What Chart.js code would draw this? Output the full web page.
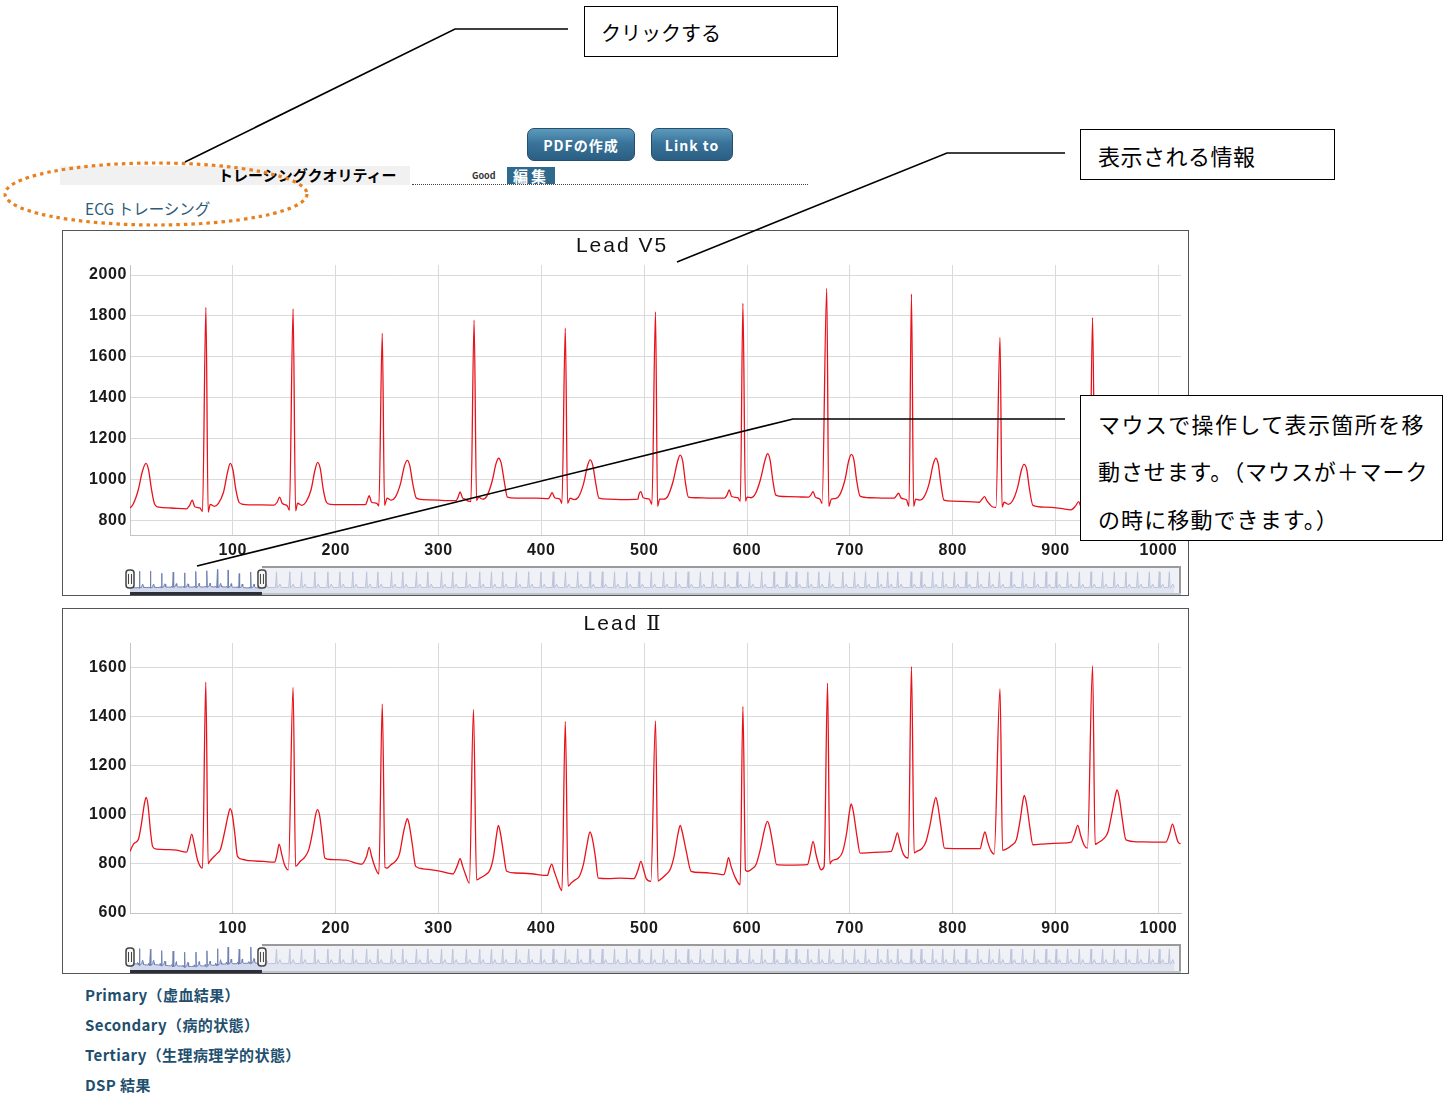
<!DOCTYPE html>
<html lang="ja">
<head>
<meta charset="utf-8">
<title>ECG トレーシング</title>
<script src="https://cdn.jsdelivr.net/npm/chart.js@4.4.1/dist/chart.umd.min.js"></script>
<style>
  html, body { margin: 0; padding: 0; background: #fff; }
  body { width: 1452px; height: 1095px; position: relative; overflow: hidden;
         font-family: "Noto Sans CJK JP", "Noto Sans", sans-serif; color: #000; }
  .callout { position: absolute; border: 1.6px solid #000; background: #fff; box-sizing: border-box; z-index: 5; }
  .callout div { position: absolute; left: 16px; white-space: nowrap; line-height: 24px; }
  .btn { position: absolute; top: 128px; height: 33px; border-radius: 7px; box-sizing: border-box;
         background: linear-gradient(#5d9abd, #3a739a 45%, #2a5f82 100%); border: 1px solid #22506d;
         color: #fff; font-weight: bold; font-size: 14px; letter-spacing: 1px;
         display: flex; align-items: center; justify-content: center; }
  .frame { position: absolute; left: 62px; width: 1127px; height: 366px; border: 1px solid #555; box-sizing: border-box; }
  .frame canvas { position: absolute; left: 0; }
  .title { position: absolute; top: 2px; left: 559px; transform: translateX(-50%); font-family: "Liberation Sans", sans-serif;
           font-size: 21px; letter-spacing: 2px; line-height: 24px; white-space: nowrap; color: #111; }
  .title .roman { font-family: "DejaVu Serif", "Noto Sans CJK JP", serif; letter-spacing: 0; }
  .link { position: absolute; left: 85px; font-weight: bold; font-size: 15px; letter-spacing: 0.4px; color: #1f4f6e; line-height: 20px; white-space: nowrap; }
  svg.overlay { position: absolute; left: 0; top: 0; z-index: 10; pointer-events: none; }
</style>
</head>
<body>

<!-- header controls -->
<div class="btn" style="left:527px;width:108px;">PDFの作成</div>
<div class="btn" style="left:651px;width:82px;">Link to</div>

<div style="position:absolute;left:60px;top:166px;width:350px;height:19px;background:#f1f1f1;"></div>
<div style="position:absolute;left:218px;top:165px;font-size:15px;font-weight:bold;line-height:20px;white-space:nowrap;">トレーシングクオリティー</div>
<div style="position:absolute;left:412px;top:184px;width:396px;border-top:1px dotted #444;"></div>
<div style="position:absolute;left:472px;top:170px;font-size:9px;font-weight:bold;color:#333;line-height:12px;">Good</div>
<div style="position:absolute;left:507px;top:167px;width:48px;height:17px;background:#2f6a8c;color:#fff;font-size:15px;font-weight:bold;line-height:17px;text-align:center;letter-spacing:3px;">編集</div>

<div style="position:absolute;left:85px;top:198px;font-size:15.5px;color:#2d5b78;line-height:20px;white-space:nowrap;">ECG トレーシング</div>

<!-- charts -->
<div class="frame" style="top:230px;">
  <canvas id="chartV5" width="1125" height="330" style="top:0;"></canvas>
  <canvas id="navV5" width="1125" height="29" style="top:335px;"></canvas>
  <div class="title">Lead V5</div>
</div>
<div class="frame" style="top:608px;">
  <canvas id="chartII" width="1125" height="330" style="top:0;"></canvas>
  <canvas id="navII" width="1125" height="29" style="top:335px;"></canvas>
  <div class="title">Lead <span class="roman">Ⅱ</span></div>
</div>

<!-- callouts -->
<div class="callout" style="left:584px;top:6px;width:254px;height:51px;font-size:20px;">
  <div style="top:14px;">クリックする</div>
</div>
<div class="callout" style="left:1080px;top:129px;width:255px;height:51px;font-size:22px;">
  <div style="top:13px;left:17px;letter-spacing:0.5px;">表示される情報</div>
</div>
<div class="callout" style="left:1080px;top:395px;width:363px;height:146px;font-size:22px;">
  <div style="top:15px;left:17px;letter-spacing:1.4px;">マウスで操作して表示箇所を移</div>
  <div style="top:62px;left:17px;letter-spacing:0.9px;">動させます。（マウスが＋マーク</div>
  <div style="top:110px;left:17px;letter-spacing:1.1px;">の時に移動できます。）</div>
</div>

<div class="link" style="top:985px;">Primary（虚血結果）</div>
<div class="link" style="top:1015px;">Secondary（病的状態）</div>
<div class="link" style="top:1045px;">Tertiary（生理病理学的状態）</div>
<div class="link" style="top:1075px;">DSP 結果</div>

<svg class="overlay" width="1452" height="1095">
  <ellipse cx="156" cy="194" rx="151" ry="31" fill="none" stroke="#e8801f" stroke-width="3.2" stroke-dasharray="3.5 4"/>
  <polyline points="568,29 455,29 185,162" fill="none" stroke="#000" stroke-width="1.6"/>
  <polyline points="1065,153 947,153 677,262" fill="none" stroke="#000" stroke-width="1.6"/>
  <polyline points="1065,419 793,419 197,566" fill="none" stroke="#000" stroke-width="1.6"/>
</svg>

<script>
// ===== Axis ticks and ranges =====
const xTicks = [100, 200, 300, 400, 500, 600, 700, 800, 900, 1000];
const yTicksV5 = [800, 1000, 1200, 1400, 1600, 1800, 2000];
const yTicksII = [600, 800, 1000, 1200, 1400, 1600];
const yRangeV5 = [730, 2049];
const yRangeII = [600, 1700];
const viewRange = [0, 1022];     // window shown in the main plot
const navRange = [0, 8140];      // whole recording in the navigator

// ===== Lead V5 trace (sample, value) =====
const leadV5 = [
  [0, 862], [3, 880], [8, 950], [12, 1040], [15.5, 1080], [18, 1050], [21, 950], [24, 880], [28, 866], [40, 862], [55, 858],
  [58, 875], [60.5, 900], [63, 868],
  [68, 862], [70.5, 845], [73.8, 1842], [76, 842], [78, 880], [82, 870],
  [86, 885], [91, 940], [95, 1040], [97.5, 1080], [100, 1050], [103, 950], [106, 890], [110, 880], [125, 877], [140, 876],
  [143, 890], [145.5, 915], [148, 885],
  [153, 872], [155, 850], [158.6, 1835], [161, 848], [163, 885], [167, 875],
  [171, 890], [176, 950], [180, 1050], [182.5, 1085], [185, 1055], [188, 950], [191, 890], [195, 880], [215, 878], [229, 878],
  [230.5, 895], [232.5, 922], [235, 890],
  [240, 885], [242, 872], [245.3, 1715], [247.5, 875], [250, 910], [254, 900],
  [258, 915], [263, 980], [267, 1070], [269.7, 1095], [272, 1070], [275, 980], [278.5, 910], [285, 903], [300, 900], [317, 898],
  [319, 915], [321, 940], [323.5, 910], [326, 905],
  [329, 895], [331.5, 893], [334.6, 1779], [337, 898], [339, 915], [343, 905],
  [347, 920], [352, 990], [356, 1080], [358.5, 1105], [361, 1080], [364, 990], [367, 915], [375, 910], [395, 910], [407, 908],
  [408.5, 920], [410.5, 937], [413, 912],
  [418, 905], [420, 885], [423.3, 1740], [425.5, 885], [428, 910], [432, 903],
  [436, 915], [441, 980], [445, 1070], [447.5, 1097], [450, 1070], [453, 980], [456, 910], [465, 905], [480, 903], [494, 905],
  [494.5, 920], [496.8, 942], [499, 912],
  [505, 905], [507.5, 880], [511, 1820], [513, 870], [515, 905], [519, 905],
  [523, 920], [528, 990], [532.5, 1090], [535, 1120], [537.5, 1090], [540, 990], [543, 915], [550, 912], [565, 910], [578, 910],
  [580.5, 925], [582.7, 950], [585, 918],
  [591, 912], [593.5, 895], [596, 1862], [598.5, 895], [600, 915], [604, 912],
  [608, 930], [613, 1000], [617.5, 1095], [620, 1128], [622.5, 1095], [625, 1000], [628, 925], [635, 918], [650, 916], [660, 915],
  [662, 925], [664.2, 942], [666.5, 915],
  [671, 905], [673, 885], [677.5, 1935], [679.5, 870], [682, 905], [686, 908],
  [690, 925], [695, 995], [699, 1095], [701.5, 1124], [704, 1095], [706.5, 1000], [710, 920], [720, 912], [735, 910], [743, 910],
  [745, 920], [747.3, 934], [750, 910],
  [755, 902], [757.5, 870], [759.9, 1907], [762, 870], [764, 905], [768, 900],
  [772, 915], [777, 980], [781, 1075], [783.6, 1105], [786, 1075], [788.5, 980], [791.5, 900], [800, 895], [815, 893], [826, 890],
  [828.5, 905], [831, 917], [833.5, 895],
  [836, 880], [838.5, 868], [842, 865], [846, 1695], [848, 866], [850, 890], [854, 880],
  [858, 895], [863, 960], [867, 1050], [869.3, 1075], [872, 1050], [874.5, 960], [878, 875], [890, 866], [905, 860], [915, 853],
  [919.5, 872], [922.4, 893], [925, 865],
  [930, 858], [933, 845], [936, 1792], [938.5, 850], [941, 870], [945, 865],
  [949, 880], [954, 950], [958, 1040], [960.5, 1075], [963, 1045], [966, 950], [969, 870], [980, 862], [1000, 858], [1008, 857],
  [1010, 870], [1012.5, 890], [1015, 862], [1022, 858]
];

// ===== Lead II trace (sample, value) =====
const leadII = [
  [0, 851], [2, 870], [4.4, 885], [8, 898], [11, 960], [14, 1045], [15.7, 1071], [17.5, 1040], [20, 930], [22, 871], [26, 860], [38, 858], [45, 856], [55, 848],
  [57.5, 880], [60, 921], [62.5, 880], [65.6, 817],
  [70.5, 783], [73.7, 1540], [76, 800], [77.5, 810], [80.4, 824],
  [84, 840], [88, 860], [92, 930], [95.5, 1000], [97.4, 1025], [99.5, 1000], [102, 920], [104.5, 831], [110, 818], [116, 813], [130, 810], [140.6, 807],
  [143, 840], [145, 881], [147.5, 840], [150, 800],
  [154, 776], [158.6, 1519], [161, 790], [165.4, 810],
  [170, 828], [174, 860], [178, 940], [180.5, 1000], [182.3, 1021], [184.5, 995], [187, 910], [189.4, 824], [195, 818], [210, 815], [225.5, 799],
  [230, 830], [232.6, 867], [235, 830], [238, 790],
  [242, 759], [245.3, 1451], [248, 785], [250, 783], [253.8, 797],
  [258, 810], [262, 840], [266, 930], [268, 965], [269.7, 984], [271.5, 960], [274.5, 880], [277.8, 790], [285, 780], [300, 772], [313.9, 759],
  [318, 790], [321, 821], [323.5, 790], [326, 760],
  [330, 722], [334, 1428], [337, 735], [340.4, 742], [345.8, 756],
  [350, 775], [353.5, 830], [356.5, 920], [358.2, 957], [360, 930], [363, 850], [366.3, 770], [375, 763], [390, 760], [405.9, 753],
  [408, 780], [410, 799], [412.5, 770], [415, 740],
  [420, 691], [423.3, 1380], [426, 710], [429, 722], [433, 735],
  [437, 750], [441, 800], [444.5, 880], [447.3, 930], [449.5, 905], [452.5, 830], [455.4, 742], [465, 740], [476.6, 742], [490, 740],
  [494, 775], [496.8, 810], [499.5, 775], [502, 740],
  [506.5, 729], [511, 1383], [513.5, 730], [515.6, 736], [521, 756],
  [525, 775], [529, 830], [533, 925], [535, 957], [537, 930], [541, 850], [545.6, 770], [555, 765], [570, 760], [577.4, 756],
  [580, 790], [582, 826], [584.5, 790], [588, 750],
  [593.3, 715], [596, 1441], [598.5, 775], [601, 770], [605, 780],
  [609, 800], [613, 860], [617, 940], [619.9, 973], [622, 950], [625.5, 870], [628.7, 797], [640, 795], [658.8, 797],
  [661.5, 840], [664.2, 892], [667, 840], [669.5, 800],
  [672, 776], [675, 790], [678.3, 1536], [680.5, 800], [682, 810], [689, 824],
  [693, 850], [697, 930], [699.5, 1010], [701.3, 1044], [703.5, 1010], [707, 910], [710, 844], [720, 846], [730, 848], [740.2, 851],
  [743.5, 890], [746.2, 926], [749, 880], [752, 840],
  [756.8, 824], [759.9, 1604], [762.5, 845], [765, 851], [770.3, 864],
  [774, 890], [778, 960], [781.5, 1040], [783.6, 1071], [785.5, 1040], [789, 940], [792, 864], [805, 862], [826.7, 862],
  [829, 900], [831.4, 930], [834, 890], [837, 855],
  [840.3, 840], [846, 1513], [848.5, 855], [851, 858], [858, 878],
  [862, 900], [866, 990], [868, 1050], [869.6, 1079], [872, 1040], [875, 950], [878, 878], [890, 882], [905, 885], [915.3, 889],
  [918.5, 920], [921.6, 957], [924.5, 915], [928, 875],
  [931, 864], [936, 1607], [938.5, 880], [941, 885], [947.4, 905],
  [951, 930], [955, 1010], [958, 1075], [959.8, 1102], [962, 1070], [965, 980], [968.5, 898], [980, 890], [995, 889], [1007.4, 889],
  [1011, 925], [1013.7, 962], [1016.5, 925], [1019, 890], [1021.5, 881]
];

// ===== Navigator: R-peak positions after the shown window =====
const navBeats = [
  1030, 1135, 1238, 1329, 1432, 1533, 1626, 1726, 1833, 1920, 2026, 2113, 2219, 2307, 2413, 2500, 2606, 2709, 2800, 2887, 2993,
  3088, 3183, 3278, 3373, 3468, 3563, 3658, 3753, 3848, 3943, 4038, 4133, 4228, 4323, 4418, 4513, 4608, 4703, 4798, 4893, 4988,
  5083, 5160, 5250, 5335, 5418, 5521, 5612, 5697, 5792, 5869, 5947, 6050, 6128, 6217, 6295, 6385, 6476, 6566, 6656, 6734,
  6824, 6914, 7005, 7095, 7173, 7262, 7353, 7443, 7533, 7624, 7714, 7804, 7895, 7972, 8050
];
// baseline, R peak, T peak seen in the overview strip
const navLevelsV5 = [880, 1800, 1080];
const navLevelsII = [870, 1520, 1050];
const navYRangeV5 = [440, 2140];
const navYRangeII = [447, 1747];

const tickFont = { family: "Liberation Sans", size: 16, weight: 'bold' };

const spacingPlugin = {
  id: 'spacing',
  beforeDraw(chart) { chart.ctx.letterSpacing = '0.6px'; }
};

function mainChart(id, trace, yRange, yTicks) {
  return new Chart(document.getElementById(id), {
    type: 'line',
    data: {
      datasets: [{
        data: trace.map(([x, y]) => ({ x, y })),
        borderColor: '#e8121c',
        borderWidth: 1.3,
        pointRadius: 0,
        cubicInterpolationMode: 'monotone'
      }]
    },
    options: {
      responsive: false,
      animation: false,
      events: [],
      layout: { padding: { top: 34, right: 7, left: 0, bottom: 0 } },
      plugins: { legend: { display: false }, tooltip: { enabled: false } },
      scales: {
        x: {
          type: 'linear', min: viewRange[0], max: viewRange[1],
          afterBuildTicks: ax => { ax.ticks = xTicks.map(v => ({ value: v })); },
          afterFit: ax => { ax.height = 26; },
          grid: { color: '#dadada', drawTicks: false },
          border: { color: '#c4c4c4' },
          ticks: { font: tickFont, color: '#1a1a1a', padding: 6, maxRotation: 0, callback: v => String(v) }
        },
        y: {
          min: yRange[0], max: yRange[1],
          afterBuildTicks: ax => { ax.ticks = yTicks.map(v => ({ value: v })); },
          afterFit: ax => { ax.width = 67; },
          grid: { color: '#dadada', drawTicks: false },
          border: { color: '#c4c4c4' },
          ticks: { font: tickFont, color: '#1a1a1a', padding: 3, callback: v => String(v) }
        }
      }
    },
    plugins: [spacingPlugin]
  });
}

// ===== Navigator strip with selection mask and handles =====
function drawHandle(ctx, x, top) {
  const w = 8, h = 18, y = top + 4;
  ctx.beginPath();
  ctx.roundRect(x - w / 2, y, w, h, 3);
  ctx.fillStyle = '#f6f6f6';
  ctx.fill();
  ctx.lineWidth = 1.5;
  ctx.strokeStyle = '#444';
  ctx.stroke();
  ctx.lineWidth = 1;
  ctx.beginPath();
  ctx.moveTo(x - 1.5, y + 4); ctx.lineTo(x - 1.5, y + h - 4);
  ctx.moveTo(x + 1.5, y + 4); ctx.lineTo(x + 1.5, y + h - 4);
  ctx.stroke();
}

const navigatorPlugin = {
  id: 'navigator',
  beforeDatasetsDraw(chart) {
    const { ctx, chartArea: a, scales: { x } } = chart;
    const x1 = x.getPixelForValue(viewRange[1]);
    ctx.save();
    ctx.fillStyle = '#eef0f4';
    ctx.fillRect(x1, a.top, a.right - x1, a.bottom - a.top);
    ctx.restore();
  },
  afterDatasetsDraw(chart) {
    const { ctx, chartArea: a, scales: { x } } = chart;
    const x0 = x.getPixelForValue(viewRange[0]);
    const x1 = x.getPixelForValue(viewRange[1]);
    ctx.save();
    ctx.fillStyle = 'rgba(240,242,246,0.6)';
    ctx.fillRect(x1, a.top, a.right - x1, a.bottom - a.top);
    ctx.strokeStyle = '#9a9a9a';
    ctx.lineWidth = 2;
    ctx.beginPath();
    ctx.moveTo(x1, a.top + 1); ctx.lineTo(a.right - 1, a.top + 1); ctx.lineTo(a.right - 1, a.bottom);
    ctx.stroke();
    ctx.strokeStyle = '#bfc3cc';
    ctx.beginPath();
    ctx.moveTo(x1, a.bottom - 1); ctx.lineTo(a.right, a.bottom - 1);
    ctx.stroke();
    ctx.strokeStyle = '#2c2f3a';
    ctx.lineWidth = 3;
    ctx.beginPath();
    ctx.moveTo(x0, a.bottom - 1.5); ctx.lineTo(x1, a.bottom - 1.5);
    ctx.stroke();
    drawHandle(ctx, x0, a.top);
    drawHandle(ctx, x1, a.top);
    ctx.restore();
  }
};

function navChart(id, trace, levels, yRange) {
  const [base, peak, tPeak] = levels;
  const pts = trace.map(([x, y]) => ({ x, y }));
  navBeats.forEach(p => {
    pts.push({ x: p - 8, y: base }, { x: p, y: peak }, { x: p + 5, y: base - 20 },
             { x: p + 12, y: base }, { x: p + 26, y: tPeak }, { x: p + 38, y: base });
  });
  return new Chart(document.getElementById(id), {
    type: 'line',
    data: {
      datasets: [{
        data: pts,
        borderColor: '#6f80b0',
        borderWidth: 1,
        backgroundColor: 'rgba(128,146,200,0.35)',
        fill: 'origin',
        pointRadius: 0,
        tension: 0
      }]
    },
    options: {
      responsive: false,
      animation: false,
      events: [],
      layout: { padding: { left: 67, right: 7, top: 0, bottom: 0 } },
      plugins: { legend: { display: false }, tooltip: { enabled: false } },
      scales: {
        x: { type: 'linear', display: false, min: navRange[0], max: navRange[1] },
        y: { display: false, min: yRange[0], max: yRange[1] }
      }
    },
    plugins: [navigatorPlugin]
  });
}

mainChart('chartV5', leadV5, yRangeV5, yTicksV5);
mainChart('chartII', leadII, yRangeII, yTicksII);
navChart('navV5', leadV5, navLevelsV5, navYRangeV5);
navChart('navII', leadII, navLevelsII, navYRangeII);
</script>
</body>
</html>
